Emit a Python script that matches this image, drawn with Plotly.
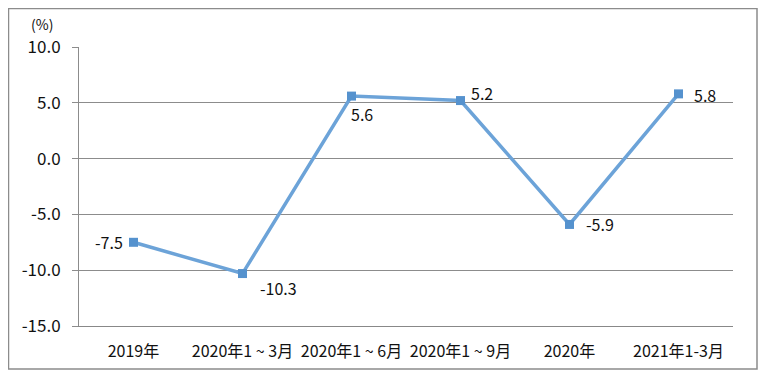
import plotly.graph_objects as go

categories = ["2019年", "2020年1 ~ 3月", "2020年1 ~ 6月", "2020年1 ~ 9月", "2020年", "2021年1-3月"]
values = [-7.5, -10.3, 5.6, 5.2, -5.9, 5.8]
labels = ["-7.5", "-10.3", "5.6", "5.2", "-5.9", "5.8"]
y_ticks = [-15, -10, -5, 0, 5, 10]
y_tick_text = ["-15.0", "-10.0", "-5.0", "0.0", "5.0", "10.0"]

# label placement styles (anchor, x shift px, y shift px)
label_style = [("right", -9, 0), ("left", 15, -14), ("left", -3, -18),
               ("left", 8, 8), ("left", 14, 0), ("left", 13, -1)]

FONT = "Noto Sans CJK SC"
OFF = 8  # page body margin
W, H = 768 - OFF, 382 - OFF
L, R, T, B = 79 - OFF, 768 - 733, 47 - OFF, 382 - 326
pw, ph = W - L - R, H - T - B


def px_x(x):
    return (x - OFF - L) / pw


def px_y(y):
    return (H - B - (y - OFF)) / ph


fig = go.Figure()
fig.add_trace(go.Scatter(
    x=categories, y=values, mode="lines+markers",
    line=dict(color="#6CA3D8", width=3.5),
    marker=dict(symbol="square", size=9, color="#5592CE"),
    cliponaxis=False,
    showlegend=False,
))

annotations = [dict(
    text="(%)", xref="paper", yref="paper",
    x=px_x(42), y=px_y(24), showarrow=False,
    font=dict(family=FONT, size=14), xanchor="center", yanchor="middle",
)]
for c, v, t, (anc, dx, dy) in zip(categories, values, labels, label_style):
    annotations.append(dict(
        x=c, y=v, text=t, showarrow=False, xanchor=anc, yanchor="middle",
        xshift=dx, yshift=dy, font=dict(family=FONT, size=16, color="#111111"),
    ))

fig.update_layout(
    width=W, height=H,
    margin=dict(l=L, r=R, t=T, b=B),
    paper_bgcolor="white", plot_bgcolor="white",
    font=dict(family=FONT, size=16, color="#111111"),
    xaxis=dict(
        type="category", showgrid=False, showline=True, linecolor="#888888", linewidth=1,
        ticks="", tickfont=dict(family=FONT, size=16), range=[-0.5, 5.5],
        ticklabelstandoff=11,
    ),
    yaxis=dict(
        range=[-15, 10], tickvals=y_ticks, ticktext=y_tick_text,
        showgrid=True, gridcolor="#8C8C8C", gridwidth=1,
        showline=True, linecolor="#8C8C8C", linewidth=1,
        ticks="outside", ticklen=6, tickcolor="#8C8C8C",
        zeroline=False, tickfont=dict(family=FONT, size=17),
        ticklabelstandoff=8,
    ),
    shapes=[dict(
        type="rect", xref="paper", yref="paper",
        x0=px_x(8.5), x1=px_x(757),
        y0=px_y(369), y1=px_y(8.5),
        line=dict(color="#8C8C8C", width=1.5), fillcolor="rgba(0,0,0,0)", layer="below",
    )],
    annotations=annotations,
)

fig.write_html("out.html")
